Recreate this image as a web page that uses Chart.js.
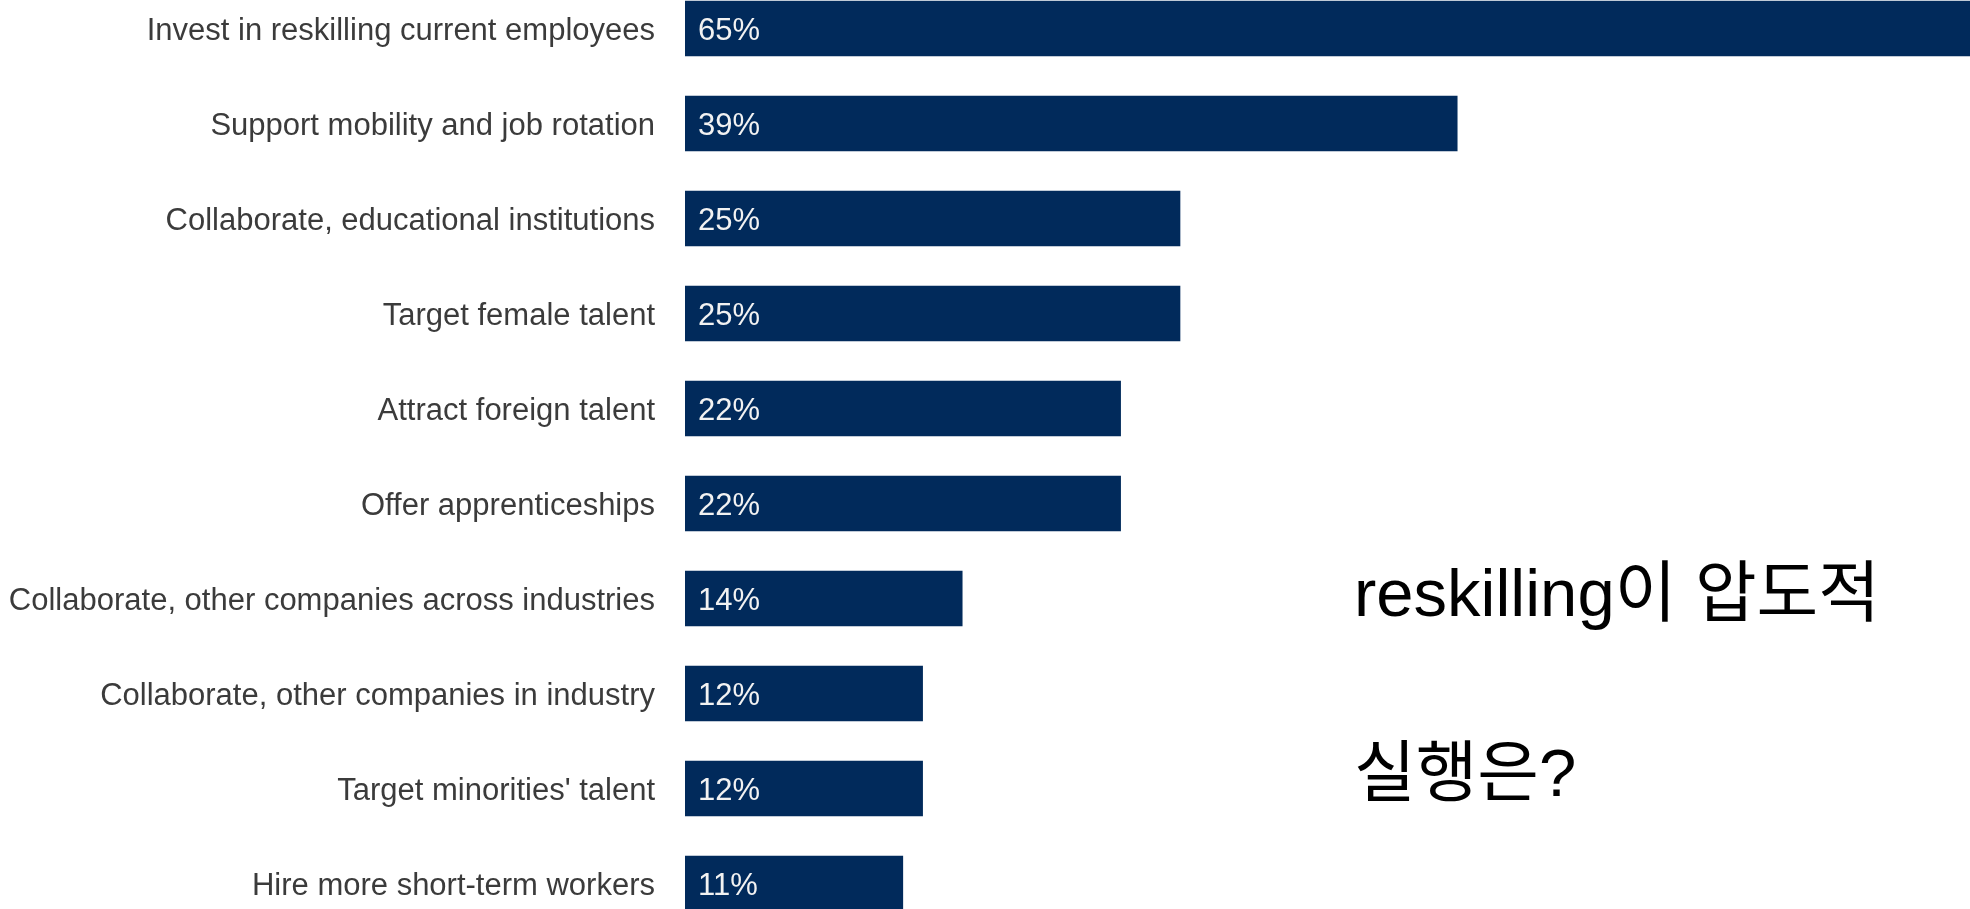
<!DOCTYPE html>
<html>
<head>
<meta charset="utf-8">
<script src="https://cdn.jsdelivr.net/npm/chart.js@4.4.1/dist/chart.umd.min.js"></script>
<style>
  html, body { margin: 0; padding: 0; background: #fff; overflow: hidden; }
  #wrap { position: relative; width: 1970px; height: 909px; overflow: hidden; }
  #chart { position: absolute; left: 0; top: -19px; }
</style>
</head>
<body>
<div id="wrap">
  <canvas id="chart" width="1972" height="950"></canvas>
</div>
<script>
const categories = [
  "Invest in reskilling current employees",
  "Support mobility and job rotation",
  "Collaborate, educational institutions",
  "Target female talent",
  "Attract foreign talent",
  "Offer apprenticeships",
  "Collaborate, other companies across industries",
  "Collaborate, other companies in industry",
  "Target minorities' talent",
  "Hire more short-term workers"
];
const shares = [65, 39, 25, 25, 22, 22, 14, 12, 12, 11];
const noteLines = ["reskilling이 압도적", "실행은?"];

const BAR_COLOR = "#012a5b";
const FONT = "'Liberation Sans', Arial, Helvetica, sans-serif";

// percentage written inside the left end of each bar
const valueLabels = {
  id: "valueLabels",
  afterDatasetsDraw(chart) {
    const ctx = chart.ctx;
    const meta = chart.getDatasetMeta(0);
    ctx.save();
    ctx.font = "31px " + FONT;
    ctx.fillStyle = "#f2f2f2";
    ctx.textAlign = "left";
    ctx.textBaseline = "middle";
    meta.data.forEach((bar, i) => {
      ctx.fillText(shares[i] + "%", bar.base + 13, bar.y + 3);
    });
    ctx.restore();
  }
};

// two-line remark on the right side
const remark = {
  id: "remark",
  afterDraw(chart) {
    const ctx = chart.ctx;
    ctx.save();
    ctx.font = "67px " + FONT + ", 'Noto Sans CJK KR'";
    ctx.fillStyle = "#000";
    ctx.textAlign = "left";
    ctx.textBaseline = "alphabetic";
    ctx.fillText(noteLines[0], 1354, 635);
    ctx.fillText(noteLines[1], 1354, 815);
    ctx.restore();
  }
};

new Chart(document.getElementById("chart"), {
  type: "bar",
  data: {
    labels: categories,
    datasets: [{
      data: shares,
      backgroundColor: BAR_COLOR,
      borderWidth: 0,
      barThickness: 55
    }]
  },
  options: {
    indexAxis: "y",
    responsive: false,
    animation: false,
    devicePixelRatio: 1,
    layout: { padding: 0 },
    plugins: {
      legend: { display: false },
      tooltip: { enabled: false }
    },
    scales: {
      x: {
        display: false,
        min: 0,
        max: 65
      },
      y: {
        grid: { display: false, drawTicks: false },
        border: { display: false },
        ticks: {
          color: "#3b3b3b",
          padding: 30,
          labelOffset: 3,
          font: { family: FONT, size: 31 }
        },
        afterFit(scale) {
          // fixed label column; bands run the full canvas height
          scale.width = 685;
          scale.paddingTop = 0;
          scale.paddingBottom = 0;
        }
      }
    }
  },
  plugins: [valueLabels, remark]
});
</script>
</body>
</html>
